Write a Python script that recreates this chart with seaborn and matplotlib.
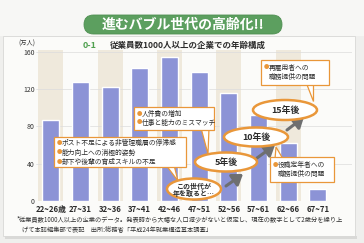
import matplotlib
matplotlib.use("Agg")
import matplotlib.pyplot as plt
import seaborn as sns
import pandas as pd
from matplotlib.patches import FancyBboxPatch, Ellipse, Polygon, Rectangle

# ---- data ----
categories = ["22~26歳", "27~31", "32~36", "37~41", "42~46",
              "47~51", "52~56", "57~61", "62~66", "67~71"]
values = [87, 128, 122, 143, 154, 138, 116, 92, 62, 13]
yticks = [0, 40, 80, 120, 160]

title = "進むバブル世代の高齢化!!"
sub_no = "0-1"
subtitle = "従業員数1000人以上の企業での年齢構成"
unit = "(万人)"
box1 = ["ポスト不足による非管理職層の停滞感", "能力向上への消極的姿勢", "部下や後輩の育成スキルの不足"]
box2 = ["人件費の増加", "仕事と能力のミスマッチ"]
box3 = ["再雇用者への", "職務提供の問題"]
box4 = ["役職定年者への", "職務提供の問題"]
ell_texts = ["この世代が\n年を取ると…", "5年後", "10年後", "15年後"]
note1 = "*従業員数1000人以上の企業のデータ。発表時から大幅な人口減少がないと仮定し、現在の数字として2歳分を繰り上"
note2 = "げて本誌編集部で表記　出所:総務省「平成24年就業構造基本調査」"

CJK = ["Noto Sans CJK JP", "DejaVu Sans"]
NARROW = ["Liberation Sans Narrow", "Noto Sans CJK JP"]

sns.set_theme(style="white")
plt.rcParams["font.family"] = CJK

BAR = "#8c93d6"
BEIGE = "#efe9dc"
ORANGE = "#e9973a"
GREEN = "#5c9f5f"
DARK = "#2b2b2b"

W, H = 364, 243
fig = plt.figure(figsize=(W / 100, H / 100), dpi=100)
fig.patch.set_facecolor("#efefed")

# background overlay (pixel coords)
bg = fig.add_axes([0, 0, 1, 1], zorder=0)
bg.set_xlim(0, W); bg.set_ylim(H, 0); bg.axis("off")
bg.add_patch(Rectangle((0, 0), W, 36, facecolor="#f7f7f5", edgecolor="none"))
bg.add_patch(Rectangle((3, 36), 352, 200, facecolor="#fbfbf9", edgecolor="#d8d8d6", lw=0.6))
bg.add_patch(Rectangle((5, 236), 352, 3, facecolor="#d9d9d7", edgecolor="none"))

# main axes
left_px, right_px = 36, 352
bottom_px, top_px = 201, 50
ax = fig.add_axes([left_px / W, (H - bottom_px) / H, (right_px - left_px) / W,
                   (bottom_px - top_px) / H], zorder=1)
ax.patch.set_alpha(0)
df = pd.DataFrame({"age": categories, "val": values})
for i in range(0, len(categories), 2):
    ax.axvspan(i - 0.42, i + 0.42, color=BEIGE, zorder=0, lw=0)
for t in yticks[1:]:
    ax.axhline(t, color="#dcdcdc", lw=0.5, zorder=0.5)
sns.barplot(data=df, x="age", y="val", color=BAR, width=0.57, saturation=1,
            ax=ax, zorder=2)
ax.set_xlim(-0.5, 10.15)
ax.set_ylim(0, 162)
ax.set_yticks(yticks)
ax.set_yticklabels([str(t) for t in yticks], fontsize=5, color="#333333")
ax.tick_params(axis="y", length=0, pad=1)
ax.tick_params(axis="x", length=0, pad=3)
for lab in ax.get_xticklabels():
    lab.set_fontfamily(NARROW)
    lab.set_fontsize(5.6)
    lab.set_fontweight("bold")
    lab.set_color(DARK)
ax.set_xlabel(""); ax.set_ylabel("")
for s in ax.spines.values():
    s.set_visible(False)

# overlay for annotations
ov = fig.add_axes([0, 0, 1, 1], zorder=5)
ov.set_xlim(0, W); ov.set_ylim(H, 0); ov.axis("off")
ov.patch.set_alpha(0)

# title pill
ov.add_patch(FancyBboxPatch((84, 15), 198, 19, boxstyle="round,pad=0,rounding_size=9.5",
                            facecolor=GREEN, edgecolor="#4f8f52", lw=0.6))
ov.text(183, 24.5, title, ha="center", va="center", fontsize=10, fontweight="bold",
        color="white")
ov.text(83, 45, sub_no, ha="left", va="center", fontsize=6.5, fontweight="bold", color="#4fa04f")
ov.text(110, 45, subtitle, ha="left", va="center", fontsize=6.1, fontweight="bold", color=DARK)
ov.text(27, 43.5, unit, ha="center", va="center", fontsize=4.5, color="#333333")


def callout(x0, y0, w, h, lines, tail, fs=4.9, lh=9.5, ty=None):
    ov.add_patch(Polygon(tail, closed=True, facecolor="white", edgecolor=ORANGE, lw=0.9, zorder=3))
    ov.add_patch(Rectangle((x0, y0), w, h, facecolor="white", edgecolor=ORANGE, lw=0.9, zorder=4))
    ystart = y0 + (ty if ty is not None else 6)
    for k, line in enumerate(lines):
        yy = ystart + k * lh
        if line.startswith("  "):
            ov.text(x0 + 8, yy, line.strip(), fontsize=fs, va="center", ha="left", color=DARK, zorder=5)
        else:
            ov.text(x0 + 3, yy, "●", fontsize=fs * 0.8, va="center", ha="left", color=ORANGE, zorder=5)
            ov.text(x0 + 8, yy, line, fontsize=fs, va="center", ha="left", color=DARK, zorder=5)


callout(54, 137, 132, 30, box1, [(166, 165), (174, 165), (178, 181)], ty=6.2, lh=9.6)
callout(134, 107, 80, 23, box2, [(201, 128), (209, 128), (208, 154)], ty=7, lh=8.5)
callout(261, 60, 68, 25, [box3[0], "  " + box3[1]], [(306, 83), (313, 83), (313, 101)], ty=7.5, lh=9)
callout(270, 157, 64, 25, [box4[0], "  " + box4[1]], [(275, 159), (283, 159), (276, 147)], ty=8, lh=9)

# arrows
for (x1, y1), (x2, y2) in [((226, 186), (243, 174)), ((257, 158), (275, 145)), ((287, 130), (304, 117))]:
    ov.annotate("", xy=(x2, y2), xytext=(x1, y1),
                arrowprops=dict(arrowstyle="-|>,head_length=0.5,head_width=0.35", color="#6e6f70",
                                lw=2.2, shrinkA=0, shrinkB=0), zorder=2)

# ellipses
ells = [(194, 189, 54, 21), (226, 162, 62, 19), (256, 137, 64, 19), (285, 110, 64, 20)]
for (cx, cy, ew, eh), txt in zip(ells, ell_texts):
    ov.add_patch(Ellipse((cx, cy), ew, eh, facecolor="white", edgecolor=ORANGE, lw=1.8, zorder=6))
    fs = 5.0 if "\n" in txt else 6.4
    ov.text(cx, cy + 0.5, txt, ha="center", va="center", fontsize=fs, fontweight="bold",
            color=DARK, zorder=7, linespacing=1.0)

# footnotes
ov.text(17, 219, note1, fontsize=4.5, ha="left", va="center", color="#333333")
ov.text(22, 229, note2, fontsize=4.5, ha="left", va="center", color="#333333")

fig.savefig("out.png", dpi=100, facecolor=fig.get_facecolor())
